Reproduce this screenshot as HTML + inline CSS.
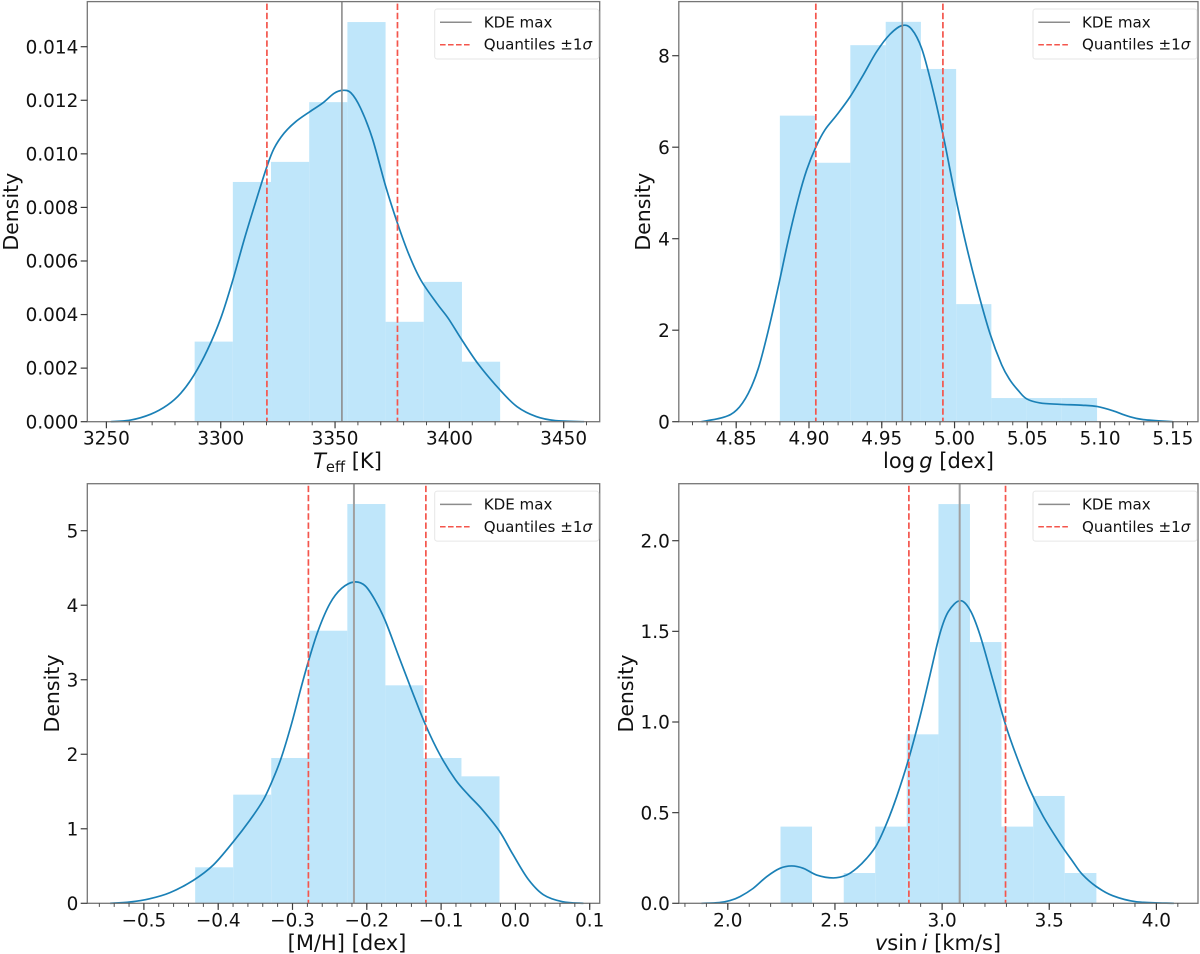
<!DOCTYPE html>
<html lang="en">
<head>
<meta charset="utf-8">
<title>Posterior density panels</title>
<style>
  html, body { margin: 0; padding: 0; background: #ffffff; }
  body { width: 1200px; height: 954px; overflow: hidden; }
  svg { display: block; font-family: "DejaVu Sans", "Liberation Sans", sans-serif; filter: blur(0.35px); }
</style>
</head>
<body>
<svg id="figure" xmlns="http://www.w3.org/2000/svg" width="1200" height="954" viewBox="0 0 1200 954"></svg>
<script>
// ---- Teff panel data ----
const teffBinEdges = [3288.6, 3305.3, 3322.0, 3338.7, 3355.4, 3372.1, 3388.8, 3405.5, 3422.2];
const teffBinHeights = [0.00299, 0.00895, 0.0097, 0.01193, 0.01492, 0.00373, 0.00522, 0.00224];
const teffKdeX = [3251.9, 3260.6, 3269.4, 3276.7, 3282.5, 3288.3, 3294.2, 3300, 3305.1, 3310.2, 3315.3, 3320.1, 3323.3, 3327.7, 3332.8, 3338.9, 3344.5, 3349.6, 3353.2, 3356.9, 3361.2, 3366.3, 3372.2, 3377.3, 3382.4, 3387.5, 3394.5, 3399.5, 3405.5, 3412.9, 3422.2, 3429.6, 3438, 3446.3, 3458.9];
const teffKdeY = [0, 0.00006, 0.00028, 0.00062, 0.00106, 0.00174, 0.00268, 0.00386, 0.00523, 0.00678, 0.00821, 0.0095, 0.0102, 0.01077, 0.0112, 0.01157, 0.01189, 0.01226, 0.01237, 0.01228, 0.0117, 0.01058, 0.00877, 0.00741, 0.00622, 0.00529, 0.00442, 0.00386, 0.00305, 0.00212, 0.00118, 0.00056, 0.00019, 0.00004, 0];
const teffKdeMax = 3353;
const teffQuantiles = [3320.2, 3377.3];
const teffXTicks = [3250, 3300, 3350, 3400, 3450];
const teffXTickLabels = ["3250", "3300", "3350", "3400", "3450"];
const teffYTicks = [0, 0.002, 0.004, 0.006, 0.008, 0.01, 0.012, 0.014];
const teffYTickLabels = ["0.000", "0.002", "0.004", "0.006", "0.008", "0.010", "0.012", "0.014"];

// ---- log g panel data ----
const loggBinEdges = [4.88, 4.9042, 4.9284, 4.9527, 4.9769, 5.0011, 5.0253, 5.0495, 5.0737, 5.0979];
const loggBinHeights = [6.69, 5.66, 8.23, 8.74, 7.71, 2.57, 0.517, 0.517, 0.517];
const loggKdeX = [4.8261, 4.8412, 4.8503, 4.8583, 4.8652, 4.8721, 4.8789, 4.8858, 4.8927, 4.8984, 4.9048, 4.911, 4.919, 4.9282, 4.9373, 4.9465, 4.9557, 4.9641, 4.9705, 4.9774, 4.9843, 4.9921, 4.9992, 5.0072, 5.0152, 5.0243, 5.0324, 5.0381, 5.0438, 5.0495, 5.0587, 5.0719, 5.0876, 5.0982, 5.1087, 5.1192, 5.1297, 5.1499];
const loggKdeY = [0, 0.095, 0.256, 0.62, 1.167, 2.0, 2.95, 3.97, 4.88, 5.5, 6.01, 6.38, 6.7, 7.1, 7.58, 8.09, 8.47, 8.66, 8.58, 8.16, 7.36, 6.27, 5.14, 3.97, 2.95, 1.93, 1.24, 0.91, 0.68, 0.5, 0.41, 0.38, 0.36, 0.33, 0.24, 0.12, 0.045, 0];
const loggKdeMax = 4.9641;
const loggQuantiles = [4.9047, 4.992];
const loggXTicks = [4.85, 4.9, 4.95, 5, 5.05, 5.1, 5.15];
const loggXTickLabels = ["4.85", "4.90", "4.95", "5.00", "5.05", "5.10", "5.15"];
const loggYTicks = [0, 2, 4, 6, 8];
const loggYTickLabels = ["0", "2", "4", "6", "8"];

// ---- [M/H] panel data ----
const mhBinEdges = [-0.431, -0.3798, -0.3286, -0.2774, -0.2262, -0.175, -0.1238, -0.0726, -0.0214];
const mhBinHeights = [0.483, 1.458, 1.95, 3.658, 5.358, 2.925, 1.95, 1.704];
const mhKdeX = [-0.5456, -0.5187, -0.4918, -0.4649, -0.4335, -0.4066, -0.3796, -0.3572, -0.3393, -0.3258, -0.3146, -0.3011, -0.2899, -0.2787, -0.2652, -0.2495, -0.2338, -0.2172, -0.2024, -0.189, -0.1755, -0.1576, -0.1396, -0.1208, -0.1014, -0.0808, -0.0628, -0.0448, -0.0216, -0.0036, 0.017, 0.0376, 0.0633, 0.0917];
const mhKdeY = [0, 0.017, 0.062, 0.143, 0.308, 0.514, 0.827, 1.118, 1.386, 1.677, 1.968, 2.415, 2.84, 3.243, 3.667, 4.025, 4.227, 4.312, 4.262, 4.07, 3.8, 3.33, 2.86, 2.39, 1.99, 1.66, 1.45, 1.26, 0.97, 0.66, 0.326, 0.116, 0.022, 0];
const mhKdeMax = -0.2173;
const mhQuantiles = [-0.2786, -0.1205];
const mhXTicks = [-0.5, -0.4, -0.3, -0.2, -0.1, 0, 0.1];
const mhXTickLabels = ["\u22120.5", "\u22120.4", "\u22120.3", "\u22120.2", "\u22120.1", "0.0", "0.1"];
const mhYTicks = [0, 1, 2, 3, 4, 5];
const mhYTickLabels = ["0", "1", "2", "3", "4", "5"];

// ---- v sin i panel data ----
const vsiniBinEdges = [2.246, 2.393, 2.541, 2.688, 2.835, 2.983, 3.13, 3.277, 3.425, 3.572, 3.72];
const vsiniBinHeights = [0.423, 0, 0.167, 0.423, 0.932, 2.202, 1.441, 0.423, 0.592, 0.167];
const vsiniKdeX = [1.877, 1.96, 2.01, 2.0569, 2.1191, 2.1814, 2.2436, 2.298, 2.3524, 2.4147, 2.4924, 2.5547, 2.6013, 2.648, 2.6947, 2.7413, 2.788, 2.8424, 2.8969, 2.9435, 2.9902, 3.0291, 3.0835, 3.1302, 3.1768, 3.2391, 3.2966, 3.348, 3.4102, 3.4724, 3.55, 3.61, 3.654, 3.72, 3.796, 3.904, 4.082];
const vsiniKdeY = [0, 0.004, 0.015, 0.037, 0.083, 0.147, 0.193, 0.206, 0.193, 0.156, 0.14, 0.156, 0.193, 0.248, 0.322, 0.441, 0.588, 0.79, 1.029, 1.259, 1.489, 1.609, 1.669, 1.618, 1.48, 1.222, 0.983, 0.809, 0.625, 0.478, 0.331, 0.23, 0.16, 0.092, 0.042, 0.009, 0];
const vsiniKdeMax = 3.082;
const vsiniQuantiles = [2.845, 3.296];
const vsiniXTicks = [2, 2.5, 3, 3.5, 4];
const vsiniXTickLabels = ["2.0", "2.5", "3.0", "3.5", "4.0"];
const vsiniYTicks = [0, 0.5, 1, 1.5, 2];
const vsiniYTickLabels = ["0.0", "0.5", "1.0", "1.5", "2.0"];

const NS = "http://www.w3.org/2000/svg";
const fig = document.getElementById("figure");

function mk(parent, tag, attrs, text) {
  const el = document.createElementNS(NS, tag);
  for (const k in attrs) el.setAttribute(k, attrs[k]);
  if (text !== undefined) el.textContent = text;
  parent.appendChild(el);
  return el;
}
function linear(d0, d1, r0, r1) {
  const s = v => r0 + (v - d0) * (r1 - r0) / (d1 - d0);
  s.invert = p => d0 + (p - r0) * (d1 - d0) / (r1 - r0);
  return s;
}
function smoothPath(pts) {
  let d = "M" + pts[0][0].toFixed(2) + " " + pts[0][1].toFixed(2);
  for (let i = 0; i < pts.length - 1; i++) {
    const p0 = pts[Math.max(i - 1, 0)], p1 = pts[i], p2 = pts[i + 1], p3 = pts[Math.min(i + 2, pts.length - 1)];
    const c1x = p1[0] + (p2[0] - p0[0]) / 6, c1y = p1[1] + (p2[1] - p0[1]) / 6;
    const c2x = p2[0] - (p3[0] - p1[0]) / 6, c2y = p2[1] - (p3[1] - p1[1]) / 6;
    d += "C" + c1x.toFixed(2) + " " + c1y.toFixed(2) + " " + c2x.toFixed(2) + " " + c2y.toFixed(2) + " " + p2[0].toFixed(2) + " " + p2[1].toFixed(2);
  }
  return d;
}

function drawPanel(cfg) {
  const g = mk(fig, "g", {});
  
  
  const { left, right, top, bottom } = cfg.box;
  const x = linear(cfg.xAnchor[0], cfg.xAnchor[1], cfg.xAnchor[2], cfg.xAnchor[3]);
  const y = linear(cfg.yAnchor[0], cfg.yAnchor[1], bottom, cfg.yAnchor[2]);

  // histogram bars
  const bars = mk(g, "g", {});
  
  
  cfg.heights.forEach((h, i) => {
    if (h <= 0) return;
    const bar = mk(bars, "rect", {
      x: x(cfg.edges[i]), y: y(h),
      width: x(cfg.edges[i + 1]) - x(cfg.edges[i]),
      height: bottom - y(h),
      fill: "#bfe6fa"
    });
    
    
  });

  // KDE curve
  const kde = mk(g, "path", {
    d: smoothPath(cfg.kdeX.map((v, i) => [x(v), y(cfg.kdeY[i])])),
    fill: "none", stroke: "#1a80b6", "stroke-width": 1.7, "stroke-linejoin": "round"
  });
  
  

  // KDE max line
  const maxLine = mk(g, "line", {
    x1: x(cfg.kdeMax), x2: x(cfg.kdeMax), y1: top, y2: bottom,
    stroke: cfg.maxColor, "stroke-width": cfg.maxWidth
  });
  
  

  // Quantile lines
  cfg.quantiles.forEach(q => {
    const ql = mk(g, "line", {
      x1: x(q), x2: x(q), y1: top + 2, y2: bottom,
      stroke: "#f4554c", "stroke-width": 1.7, "stroke-dasharray": "6.4 2.8"
    });
    
    
  });

  // spines
  const frame = mk(g, "rect", {
    x: left, y: top, width: right - left, height: bottom - top,
    fill: "none", stroke: "#757575", "stroke-width": 1.3
  });
  
  

  // x ticks
  const xAxis = mk(g, "g", {});
  
  
  const tickColor = "#3c3c3c";
  const first = Math.ceil(x.invert(left) / cfg.xMinor - 1e-6);
  const last = Math.floor(x.invert(right) / cfg.xMinor + 1e-6);
  for (let i = first; i <= last; i++) {
    const px = x(i * cfg.xMinor);
    mk(xAxis, "line", { x1: px, x2: px, y1: bottom, y2: bottom + 3.6, stroke: tickColor, "stroke-width": 0.9 });
  }
  cfg.xTicks.forEach((t, i) => {
    mk(xAxis, "line", { x1: x(t), x2: x(t), y1: bottom, y2: bottom + 6.6, stroke: tickColor, "stroke-width": 1.2 });
    const lab = mk(xAxis, "text", { x: x(t), y: bottom + 23, "text-anchor": "middle", "font-size": 18.4, fill: "#111" }, cfg.xTickLabels[i]);
    
    
  });

  // y ticks
  const yAxis = mk(g, "g", {});
  
  
  cfg.yTicks.forEach((t, i) => {
    mk(yAxis, "line", { x1: left - 6.6, x2: left, y1: y(t), y2: y(t), stroke: tickColor, "stroke-width": 1.2 });
    const lab = mk(yAxis, "text", { x: left - 9, y: y(t) + 6.6, "text-anchor": "end", "font-size": 18.4, fill: "#111" }, cfg.yTickLabels[i]);
    
    
  });

  // axis titles
  const yTitle = mk(g, "text", {
    transform: "translate(" + cfg.yTitleX + " " + ((top + bottom) / 2) + ") rotate(-90)",
    "text-anchor": "middle", "font-size": 20.5, fill: "#111"
  }, "Density");
  
  

  const xTitle = mk(g, "text", {
    x: cfg.xTitleX, y: bottom + 46.5, "text-anchor": "middle", "font-size": 21, fill: "#111"
  });
  
  
  cfg.xTitle.forEach(part => {
    const span = mk(xTitle, "tspan", part.attrs || {}, part.text);
    if (part.italic) span.setAttribute("font-style", "italic");
  });

  // legend
  const legend = mk(g, "g", {});
  
  
  const lx = right - 165, ly = top + 7.4;
  mk(legend, "rect", { x: lx, y: ly, width: 164, height: 50, rx: 2.5, fill: "#fff", "fill-opacity": 0.85, stroke: "#e6e6e6", "stroke-width": 1 });
  const e1 = mk(legend, "g", {});
  
  
  mk(e1, "line", { x1: lx + 5.3, x2: lx + 37, y1: ly + 13.3, y2: ly + 13.3, stroke: "#8c8c8c", "stroke-width": 1.5 });
  mk(e1, "text", { x: lx + 49, y: ly + 18.3, "font-size": 15.1, fill: "#111" }, "KDE max");
  const e2 = mk(legend, "g", {});
  
  
  mk(e2, "line", { x1: lx + 5.3, x2: lx + 37, y1: ly + 35.7, y2: ly + 35.7, stroke: "#f4554c", "stroke-width": 1.5, "stroke-dasharray": "5.6 2.4" });
  const t2 = mk(e2, "text", { x: lx + 49, y: ly + 40.7, "font-size": 15.1, fill: "#111" }, "Quantiles \u00b11");
  mk(t2, "tspan", { "font-style": "italic" }, "\u03c3");
}

drawPanel({
  id: "teff",
  box: { left: 87.3, right: 599.7, top: 1.6, bottom: 421.7 },
  xAnchor: [3250, 3450, 106.4, 563.7],
  yAnchor: [0, 0.014, 46.7],
  edges: teffBinEdges, heights: teffBinHeights,
  kdeX: teffKdeX, kdeY: teffKdeY, kdeMax: teffKdeMax, quantiles: teffQuantiles,
  maxColor: "#8c8c8c", maxWidth: 1.6,
  xTicks: teffXTicks, xTickLabels: teffXTickLabels, xMinor: 10,
  yTicks: teffYTicks, yTickLabels: teffYTickLabels,
  yTitleX: 18, xTitleX: 347.5,
  xTitle: [{ text: "T", italic: true }, { text: "eff", attrs: { dy: 4, "font-size": 14.7 } }, { text: " [K]", attrs: { dy: -4 } }]
});
drawPanel({
  id: "logg",
  box: { left: 678.8, right: 1198, top: 1.6, bottom: 421.7 },
  xAnchor: [4.85, 5.15, 736.2, 1172.9],
  yAnchor: [0, 8, 55.7],
  edges: loggBinEdges, heights: loggBinHeights,
  kdeX: loggKdeX, kdeY: loggKdeY, kdeMax: loggKdeMax, quantiles: loggQuantiles,
  maxColor: "#8c8c8c", maxWidth: 1.6,
  xTicks: loggXTicks, xTickLabels: loggXTickLabels, xMinor: 0.01,
  yTicks: loggYTicks, yTickLabels: loggYTickLabels,
  yTitleX: 650, xTitleX: 938.5,
  xTitle: [{ text: "log\u2009" }, { text: "g", italic: true }, { text: " [dex]" }]
});
drawPanel({
  id: "metallicity",
  box: { left: 87.3, right: 599.7, top: 483.7, bottom: 903.3 },
  xAnchor: [-0.5, 0.1, 143.9, 589.7],
  yAnchor: [0, 5, 530.7],
  edges: mhBinEdges, heights: mhBinHeights,
  kdeX: mhKdeX, kdeY: mhKdeY, kdeMax: mhKdeMax, quantiles: mhQuantiles,
  maxColor: "#a0a0a0", maxWidth: 2,
  xTicks: mhXTicks, xTickLabels: mhXTickLabels, xMinor: 0.02,
  yTicks: mhYTicks, yTickLabels: mhYTickLabels,
  yTitleX: 59, xTitleX: 347,
  xTitle: [{ text: "[M/H] [dex]" }]
});
drawPanel({
  id: "vsini",
  box: { left: 678.8, right: 1198, top: 483.7, bottom: 903.3 },
  xAnchor: [2, 4, 727.8, 1156.4],
  yAnchor: [0, 2, 540.7],
  edges: vsiniBinEdges, heights: vsiniBinHeights,
  kdeX: vsiniKdeX, kdeY: vsiniKdeY, kdeMax: vsiniKdeMax, quantiles: vsiniQuantiles,
  maxColor: "#a0a0a0", maxWidth: 2,
  xTicks: vsiniXTicks, xTickLabels: vsiniXTickLabels, xMinor: 0.1,
  yTicks: vsiniYTicks, yTickLabels: vsiniYTickLabels,
  yTitleX: 633, xTitleX: 938,
  xTitle: [{ text: "v", italic: true }, { text: "sin\u2009" }, { text: "i", italic: true }, { text: " [km/s]" }]
});
</script>
</body>
</html>
